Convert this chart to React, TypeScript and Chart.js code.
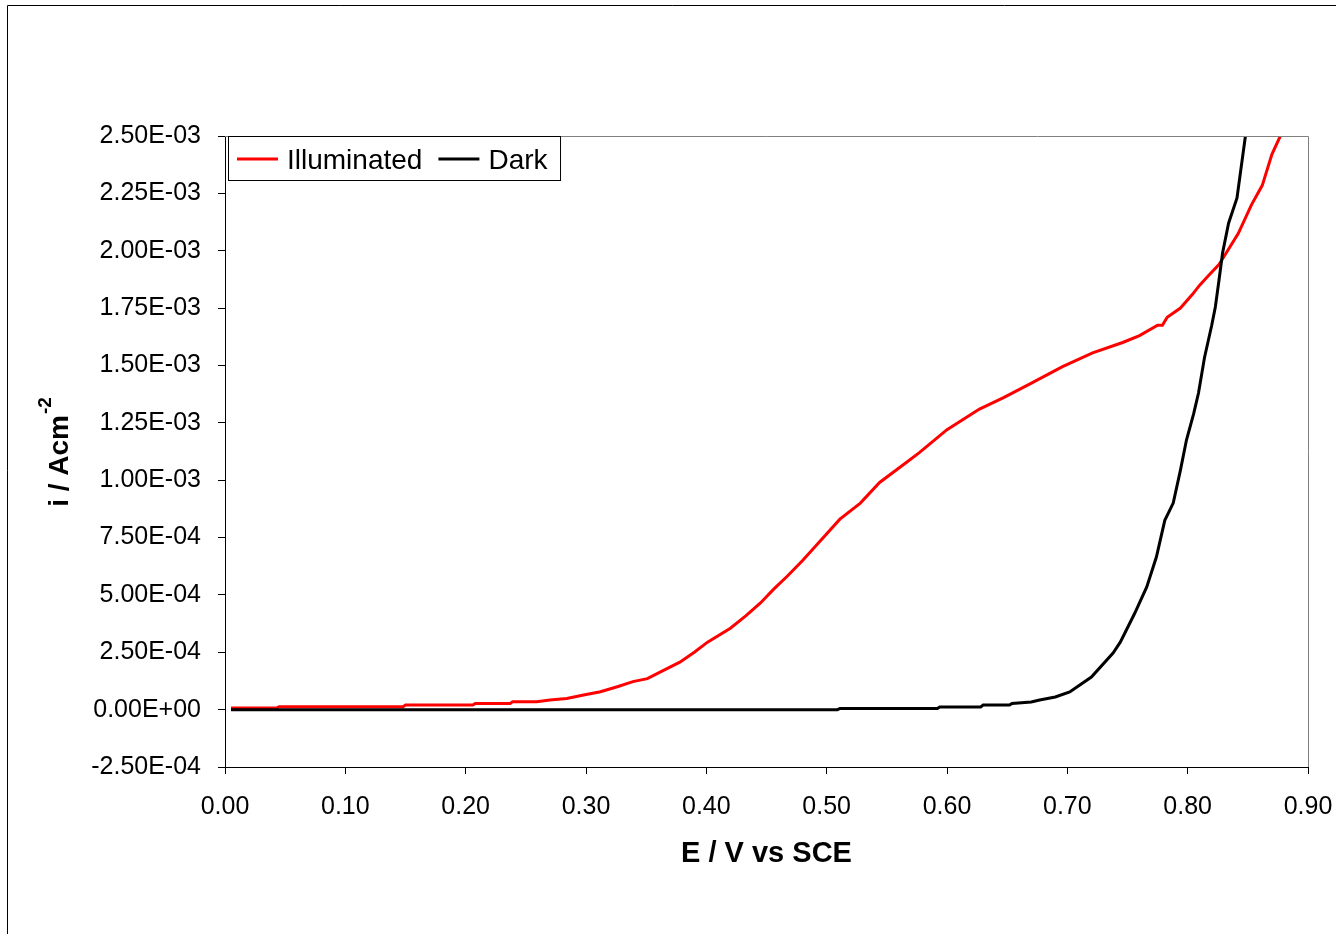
import React, { useEffect, useRef } from "react";
import { Chart, registerables } from "chart.js";

Chart.register(...registerables);

// ---- Data ----
const illumE = [
  0.005, 0.043, 0.045, 0.148, 0.150, 0.206, 0.208, 0.237, 0.239, 0.259,
  0.270, 0.284, 0.298, 0.312, 0.326, 0.339, 0.351, 0.364, 0.378, 0.390,
  0.401, 0.420, 0.433, 0.445, 0.456, 0.467, 0.480, 0.492, 0.511, 0.528,
  0.544, 0.567, 0.577, 0.600, 0.627, 0.647, 0.669, 0.696, 0.721, 0.746,
  0.760, 0.775, 0.779, 0.783, 0.794, 0.804, 0.810, 0.817, 0.826, 0.832,
  0.842, 0.853, 0.862, 0.870, 0.877,
];
const illumI = [
  7e-6, 7e-6, 1.3e-5, 1.3e-5, 2.0e-5, 2.0e-5, 2.7e-5, 2.7e-5, 3.4e-5, 3.4e-5,
  4.2e-5, 4.9e-5, 6.4e-5, 7.8e-5, 1.0e-4, 1.22e-4, 1.35e-4, 1.7e-4, 2.07e-4, 2.5e-4,
  2.94e-4, 3.55e-4, 4.1e-4, 4.65e-4, 5.25e-4, 5.8e-4, 6.5e-4, 7.2e-4, 8.3e-4, 9.0e-4,
  9.9e-4, 1.08e-3, 1.12e-3, 1.22e-3, 1.31e-3, 1.36e-3, 1.42e-3, 1.495e-3, 1.555e-3, 1.6e-3,
  1.63e-3, 1.675e-3, 1.675e-3, 1.71e-3, 1.75e-3, 1.81e-3, 1.85e-3, 1.89e-3, 1.94e-3, 1.99e-3,
  2.075e-3, 2.2e-3, 2.285e-3, 2.42e-3, 2.5e-3,
];

const darkE = [
  0.005, 0.509, 0.511, 0.592, 0.594, 0.628, 0.630, 0.652, 0.654, 0.670,
  0.677, 0.690, 0.702, 0.720, 0.738, 0.744, 0.756, 0.766, 0.774, 0.781,
  0.788, 0.794, 0.799, 0.805, 0.809, 0.814, 0.820, 0.823, 0.826, 0.829,
  0.834, 0.841, 0.848,
];
const darkI = [
  0, 0, 5e-6, 5e-6, 1.2e-5, 1.2e-5, 2e-5, 2e-5, 2.7e-5, 3.3e-5,
  4.2e-5, 5.5e-5, 7.7e-5, 1.42e-4, 2.47e-4, 2.94e-4, 4.2e-4, 5.35e-4, 6.65e-4, 8.25e-4,
  9.0e-4, 1.044e-3, 1.175e-3, 1.29e-3, 1.38e-3, 1.535e-3, 1.675e-3, 1.755e-3, 1.87e-3, 1.99e-3,
  2.12e-3, 2.23e-3, 2.5e-3,
];

const seriesLabels = ["Illuminated", "Dark"];
const seriesColors = ["#ff0000", "#000000"];
const xTitle = "E / V vs SCE";
const yTitleMain = "i / Acm";
const yTitleSup = "-2";

const xMin = 0, xMax = 0.9, xStep = 0.1;
const yMin = -2.5e-4, yMax = 2.5e-3, yStep = 2.5e-4;

const FONT = "'Liberation Sans', Arial, Helvetica, sans-serif";

function fmtExp(v: number): string {
  if (Math.abs(v) < 1e-12) return "0.00E+00";
  const s = v.toExponential(2).toUpperCase();
  const [m, e] = s.split("E");
  const sign = e[0] === "-" ? "-" : "+";
  const digits = e.replace(/[+-]/, "").padStart(2, "0");
  return `${m}E${sign}${digits}`;
}

const decorPlugin = {
  id: "decor",
  afterDraw(chart: any) {
    const { ctx, chartArea: a } = chart;
    ctx.save();
    // outer chart frame
    ctx.strokeStyle = "#000";
    ctx.lineWidth = 1;
    ctx.beginPath();
    ctx.moveTo(7.5, 940);
    ctx.lineTo(7.5, 5.5);
    ctx.lineTo(1340, 5.5);
    ctx.stroke();

    // plot area top/right border
    ctx.strokeStyle = "#808080";
    ctx.beginPath();
    ctx.moveTo(a.left, a.top + 0.5);
    ctx.lineTo(a.right + 0.5, a.top + 0.5);
    ctx.lineTo(a.right + 0.5, a.bottom);
    ctx.stroke();

    // legend
    ctx.font = `28px ${FONT}`;
    ctx.textBaseline = "alphabetic";
    const ds = chart.data.datasets;
    const bx = a.left + 3.5, by = a.top + 0.5, bh = 44;
    let x = bx + 8.5;
    const items: any[] = [];
    for (let k = 0; k < seriesLabels.length; k++) {
      const d = ds.find((q: any) => q.label === seriesLabels[k]);
      const w = ctx.measureText(d.label).width;
      items.push({ x, color: d.borderColor, label: d.label, w });
      x = x + 50 + w + 16;
    }
    const bw = x - 16 + 13 - bx;
    ctx.fillStyle = "#fff";
    ctx.fillRect(bx, by, bw, bh);
    ctx.strokeStyle = "#000";
    ctx.lineWidth = 1;
    ctx.strokeRect(bx, by, bw, bh);
    for (const it of items) {
      ctx.strokeStyle = it.color;
      ctx.lineWidth = 3;
      ctx.beginPath();
      ctx.moveTo(it.x, by + 22.5);
      ctx.lineTo(it.x + 41, by + 22.5);
      ctx.stroke();
      ctx.fillStyle = "#000";
      ctx.fillText(it.label, it.x + 50, by + 32.5);
    }

    // x title
    ctx.font = `bold 29px ${FONT}`;
    ctx.textAlign = "center";
    ctx.fillStyle = "#000";
    ctx.fillText(xTitle, (a.left + a.right) / 2, 862);

    // y title, rotated with superscript
    ctx.translate(68, (a.top + a.bottom) / 2 + 1);
    ctx.rotate(-Math.PI / 2);
    ctx.textAlign = "left";
    ctx.font = `bold 28px ${FONT}`;
    const mw = ctx.measureText(yTitleMain).width;
    ctx.font = `bold 19px ${FONT}`;
    const sw = ctx.measureText(yTitleSup).width;
    const start = -(mw + sw) / 2;
    ctx.font = `bold 28px ${FONT}`;
    ctx.fillText(yTitleMain, start, 0);
    ctx.font = `bold 19px ${FONT}`;
    ctx.fillText(yTitleSup, start + mw + 1, -17);
    ctx.restore();
  },
};

export default function App() {
  const canvasRef = useRef<HTMLCanvasElement | null>(null);

  useEffect(() => {
    if (!canvasRef.current) return;
    const chart = new Chart(canvasRef.current, {
      type: "scatter",
      data: {
        datasets: [
          {
            label: seriesLabels[0],
            data: illumE.map((e, i) => ({ x: e, y: illumI[i] })),
            borderColor: seriesColors[0],
            backgroundColor: seriesColors[0],
            borderWidth: 3,
            showLine: true,
            pointRadius: 0,
            tension: 0,
            order: 1,
          },
          {
            label: seriesLabels[1],
            data: darkE.map((e, i) => ({ x: e, y: darkI[i] })),
            borderColor: seriesColors[1],
            backgroundColor: seriesColors[1],
            borderWidth: 3,
            showLine: true,
            pointRadius: 0,
            tension: 0,
            order: 0,
          },
        ],
      },
      options: {
        animation: false,
        responsive: false,
        devicePixelRatio: 1,
        layout: { padding: { left: 0, right: 28, top: 136, bottom: 0 } },
        plugins: {
          legend: { display: false },
          tooltip: { enabled: false },
          title: { display: false },
        },
        scales: {
          x: {
            type: "linear",
            min: xMin,
            max: xMax,
            afterFit: (s: any) => {
              s.height = 167;
              s.paddingLeft = 0;
              s.paddingRight = 0;
            },
            ticks: {
              stepSize: xStep,
              color: "#000",
              font: { family: FONT, size: 25 },
              padding: 18,
              maxRotation: 0,
              autoSkip: false,
              callback: (v: any) => Number(v).toFixed(2),
            },
            grid: {
              drawOnChartArea: false,
              drawTicks: true,
              tickLength: 7,
              color: "#000",
            },
            border: { display: true, color: "#000", width: 1 },
          },
          y: {
            type: "linear",
            min: yMin,
            max: yMax,
            afterFit: (s: any) => {
              s.width = 225;
              s.paddingTop = 0;
              s.paddingBottom = 0;
            },
            ticks: {
              stepSize: yStep,
              color: "#000",
              font: { family: FONT, size: 25 },
              padding: 17,
              autoSkip: false,
              callback: (v: any) => fmtExp(Number(v)),
            },
            grid: {
              drawOnChartArea: false,
              drawTicks: true,
              tickLength: 7,
              color: "#000",
            },
            border: { display: true, color: "#000", width: 1 },
          },
        },
      },
      plugins: [decorPlugin],
    } as any);
    return () => chart.destroy();
  }, []);

  return (
    <div style={{ position: "fixed", left: 0, top: 0, width: 1336, height: 934, background: "#fff" }}>
      <canvas ref={canvasRef} width={1336} height={934} style={{ display: "block" }} />
    </div>
  );
}
